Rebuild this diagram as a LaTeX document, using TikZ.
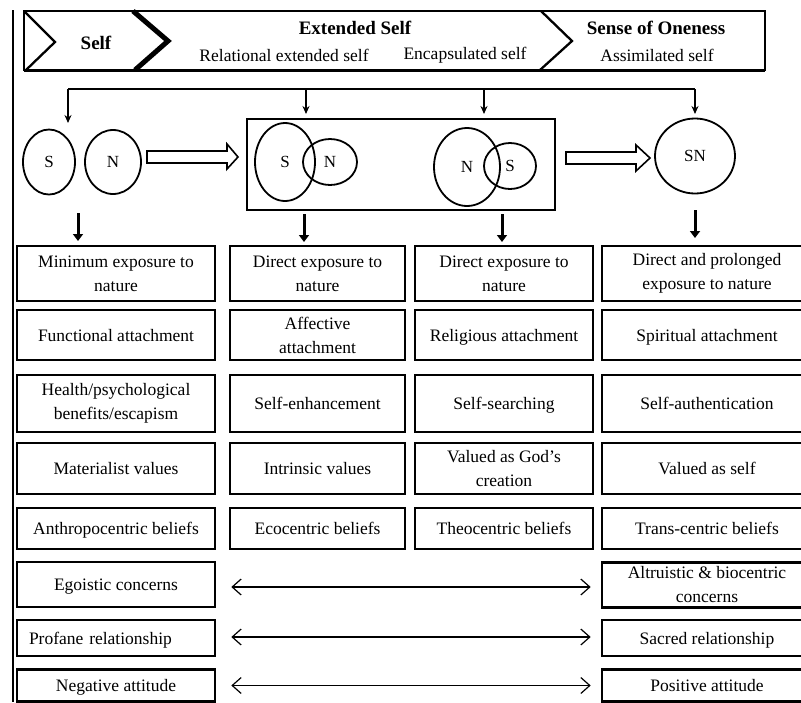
\documentclass[tikz,border=0pt]{standalone}
\usepackage{fontspec}
\setmainfont{Liberation Serif}
\usetikzlibrary{shapes.geometric,arrows.meta}
\begin{document}
\begin{tikzpicture}[x=1pt,y=-1pt,
 cell/.style={draw, line width=2.6pt, align=center, inner sep=2pt, font=\fontsize{17.5}{24}\selectfont},
 one/.style={text height=12pt, text depth=0pt},
 blob/.style={ellipse, draw, line width=1.8pt, inner sep=0pt, font=\fontsize{17}{20}\selectfont},
 hdr/.style={font=\fontsize{19}{22}\selectfont\bfseries, inner sep=0pt},
 subhdr/.style={font=\fontsize{17.5}{22}\selectfont, inner sep=0pt},
 busline/.style={line width=1.5pt},
 thinarrow/.style={line width=1.5pt, -{Stealth[length=8pt,width=7pt]}},
 fatarrow/.style={line width=3pt, -{Triangle[length=7pt,width=10pt]}},
 botharrow/.style={line width=1.2pt, {Straight Barb[length=9pt,width=16pt]}-{Straight Barb[length=9pt,width=16pt]}},
 hollowarrow/.style={line width=1.6pt, fill=white, line join=miter}
]
\clip (0,0) rectangle (801,702);
\fill[white] (0,0) rectangle (801,702);

% left rule
\draw[line width=1.5pt] (13,10) -- (13,702);

% header banner
\draw[line width=2pt] (24,11) rectangle (765,70);
\draw[line width=3pt] (24,70) -- (765,70);
\draw[line width=2.3pt] (25,12) -- (55,42) -- (26,70);
\draw[line width=5pt, line join=miter] (133,11) -- (168,41) -- (135,70);
\draw[line width=2.3pt] (541,11) -- (572,41) -- (540,70);

\node[hdr] (hself) at (96,43) {Self};
\node[hdr] (hext) at (355,28) {Extended Self};
\node[subhdr] (hrel) at (284,55) {Relational extended self};
\node[subhdr] (henc) at (465,55) {Encapsulated self};
\node[hdr] (hone) at (656,28) {Sense of Oneness};
\node[subhdr] (hass) at (657,55) {Assimilated self};

% distribution bus
\coordinate (b1) at (68,89);
\coordinate (b2) at (306,89);
\coordinate (b3) at (484,89);
\coordinate (b4) at (695,89);
\coordinate (t1) at (68,123);
\coordinate (t2) at (306,114);
\coordinate (t3) at (484,114);
\coordinate (t4) at (695,114);
\draw[busline] (b1) -- (b4);
\draw[thinarrow] (b1) -- (t1);
\draw[thinarrow] (b2) -- (t2);
\draw[thinarrow] (b3) -- (t3);
\draw[thinarrow] (b4) -- (t4);

% circles
\node[blob, minimum width=52, minimum height=65] (s1) at (49,162) {S};
\node[blob, minimum width=56, minimum height=64] (n1) at (113,162) {N};
\node[draw, line width=1.6pt, minimum width=308, minimum height=91, inner sep=0pt] (grp) at (401,164.5) {};
\node[blob, minimum width=60, minimum height=78] (s2) at (285,162) {S};
\node[blob, minimum width=54, minimum height=46] (n2) at (330,162) {N};
\node[blob, minimum width=66, minimum height=78] (n3) at (467,167) {N};
\node[blob, minimum width=52, minimum height=46] (s3) at (510,166) {S};
\node[blob, minimum width=80, minimum height=75] (sn) at (695,156) {SN};

% hollow arrows
\draw[hollowarrow] (147,151) -- (227,151) -- (227,144) -- (238,157) -- (227,169) -- (227,163) -- (147,163) -- cycle;
\draw[hollowarrow] (566,152) -- (636,152) -- (636,145) -- (650,158) -- (636,171) -- (636,164) -- (566,164) -- cycle;

% fat down arrows
\coordinate (d1a) at (78,213);  \coordinate (d1b) at (78,241);
\coordinate (d2a) at (304,214); \coordinate (d2b) at (304,242);
\coordinate (d3a) at (502,214); \coordinate (d3b) at (502,242);
\coordinate (d4a) at (695,210); \coordinate (d4b) at (695,238);
\draw[fatarrow] (d1a) -- (d1b);
\draw[fatarrow] (d2a) -- (d2b);
\draw[fatarrow] (d3a) -- (d3b);
\draw[fatarrow] (d4a) -- (d4b);

% row 1
\node[cell, minimum width=198, minimum height=55] (r1c1) at (116,273.5) {Minimum exposure to\\nature};
\node[cell, minimum width=175, minimum height=55] (r1c2) at (317.5,273.5) {Direct exposure to\\nature};
\node[cell, minimum width=178, minimum height=55] (r1c3) at (504,273.5) {Direct exposure to\\nature};
\node[cell, minimum width=210, minimum height=55] (r1c4) at (707,273.5) {Direct and prolonged\\exposure to nature};
% row 2
\node[cell, one, minimum width=198, minimum height=50] (r2c1) at (116,335) {Functional attachment};
\node[cell, minimum width=175, minimum height=50] (r2c2) at (317.5,335) {Affective\\attachment};
\node[cell, one, minimum width=178, minimum height=50] (r2c3) at (504,335) {Religious attachment};
\node[cell, one, minimum width=210, minimum height=50] (r2c4) at (707,335) {Spiritual attachment};
% row 3
\node[cell, minimum width=198, minimum height=57] (r3c1) at (116,403.5) {Health/psychological\\benefits/escapism};
\node[cell, one, minimum width=175, minimum height=57] (r3c2) at (317.5,403.5) {Self-enhancement};
\node[cell, one, minimum width=178, minimum height=57] (r3c3) at (504,403.5) {Self-searching};
\node[cell, one, minimum width=210, minimum height=57] (r3c4) at (707,403.5) {Self-authentication};
% row 4
\node[cell, one, minimum width=198, minimum height=51] (r4c1) at (116,468.5) {Materialist values};
\node[cell, one, minimum width=175, minimum height=51] (r4c2) at (317.5,468.5) {Intrinsic values};
\node[cell, minimum width=178, minimum height=51] (r4c3) at (504,468.5) {Valued as God’s\\creation};
\node[cell, one, minimum width=210, minimum height=51] (r4c4) at (707,468.5) {Valued as self};
% row 5
\node[cell, one, minimum width=198, minimum height=41] (r5c1) at (116,528.5) {Anthropocentric beliefs};
\node[cell, one, minimum width=175, minimum height=41] (r5c2) at (317.5,528.5) {Ecocentric beliefs};
\node[cell, one, minimum width=178, minimum height=41] (r5c3) at (504,528.5) {Theocentric beliefs};
\node[cell, one, minimum width=210, minimum height=41] (r5c4) at (707,528.5) {Trans-centric beliefs};
% rows 6-8
\node[cell, one, minimum width=198, minimum height=45] (r6c1) at (116,584.5) {Egoistic concerns};
\node[cell, minimum width=210, minimum height=45] (r6c4) at (707,585) {Altruistic \& biocentric\\concerns};
\node[cell, one, minimum height=36, align=left, text width=174, inner xsep=12pt] (r7c1) at (116,638) {Profane relationship};
\node[cell, one, minimum width=210, minimum height=36] (r7c4) at (707,638) {Sacred relationship};
\node[cell, one, minimum width=198, minimum height=32] (r8c1) at (116,685.5) {Negative attitude};
\node[cell, one, minimum width=210, minimum height=32] (r8c4) at (707,685.5) {Positive attitude};

\draw[botharrow, shorten <=15pt, shorten >=10pt] ([yshift=-2.5pt]r6c1.east) -- ([yshift=-2pt]r6c4.west);
\draw[botharrow, shorten <=15pt, shorten >=10pt] ([yshift=1pt]r7c1.east) -- ([yshift=1pt]r7c4.west);
\draw[botharrow, shorten <=15pt, shorten >=10pt] (r8c1.east) -- (r8c4.west);
\end{tikzpicture}
\end{document}
